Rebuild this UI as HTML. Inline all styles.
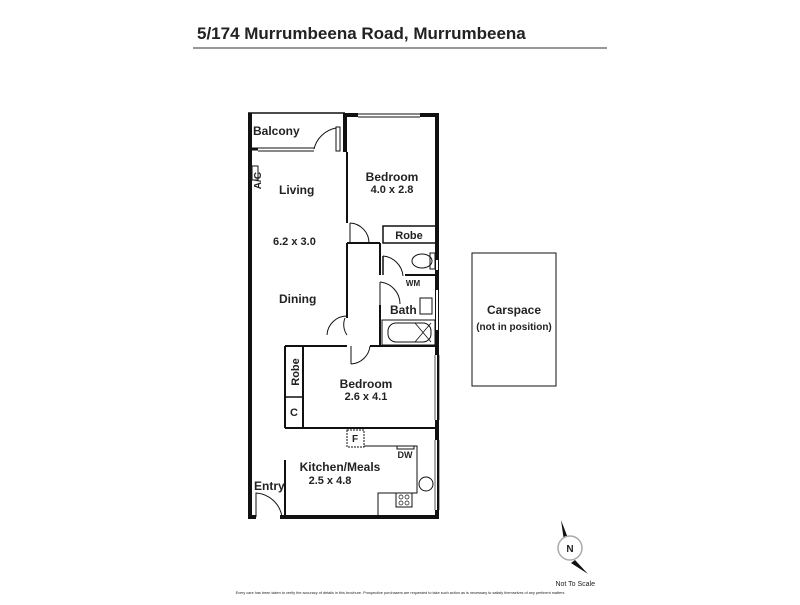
<!DOCTYPE html>
<html><head><meta charset="utf-8"><style>
body{margin:0;background:#fff;width:800px;height:600px;overflow:hidden}
svg text{font-family:"Liberation Sans",sans-serif;font-weight:bold;fill:#222}
</style></head><body>
<svg width="800" height="600" viewBox="0 0 800 600" xmlns="http://www.w3.org/2000/svg">
<text x="197" y="39" font-size="17">5/174 Murrumbeena Road, Murrumbeena</text>
<line x1="193" y1="48" x2="607" y2="48" stroke="#777" stroke-width="1.5"/>
<g stroke="#111" fill="none">
<!-- outer walls -->
<line x1="250" y1="113" x2="250" y2="517" stroke-width="4"/>
<line x1="437" y1="113" x2="437" y2="517" stroke-width="4"/>
<line x1="248" y1="113" x2="345" y2="113" stroke-width="1.5"/>
<line x1="345" y1="115" x2="358" y2="115" stroke-width="4"/>
<line x1="420" y1="115" x2="439" y2="115" stroke-width="4"/>
<line x1="358" y1="114" x2="420" y2="114" stroke-width="1"/>
<line x1="358" y1="117" x2="420" y2="117" stroke-width="1"/>
<line x1="280" y1="517" x2="439" y2="517" stroke-width="4"/>
<line x1="248" y1="517" x2="256" y2="517" stroke-width="4"/>
<!-- balcony -->
<line x1="250" y1="149" x2="258" y2="149" stroke-width="3"/>
<line x1="258" y1="148" x2="314" y2="148" stroke-width="1"/>
<line x1="258" y1="151" x2="314" y2="151" stroke-width="1"/>
<path d="M314 149 A28 28 0 0 1 336 128" stroke-width="1"/>
<rect x="336" y="127" width="4" height="24" stroke-width="1"/>
<line x1="345" y1="113" x2="345" y2="152" stroke-width="4"/>
<!-- central wall -->
<line x1="347" y1="152" x2="347" y2="223" stroke-width="2"/>
<line x1="347" y1="243" x2="347" y2="318" stroke-width="2"/>
<path d="M350 223 A20 20 0 0 1 369 243" stroke-width="1"/>
<line x1="350" y1="223" x2="350" y2="243" stroke-width="1"/>
<path d="M347 335 A18 18 0 0 1 345 318" stroke-width="1"/>
<path d="M327 335 A20 20 0 0 1 347 316" stroke-width="1"/>
<line x1="347" y1="243" x2="380" y2="243" stroke-width="2"/>
<!-- robe -->
<rect x="383" y="226" width="54" height="17" stroke-width="1.5"/>
<!-- toilet -->
<line x1="380" y1="243" x2="380" y2="275" stroke-width="2"/>
<line x1="383" y1="256" x2="383" y2="275" stroke-width="1.5"/>
<path d="M383 256 A22 22 0 0 1 403 276" stroke-width="1"/>
<line x1="405" y1="275" x2="437" y2="275" stroke-width="2"/>
<ellipse cx="422" cy="261" rx="10" ry="7" stroke-width="1"/>
<rect x="430" y="253" width="5" height="16" stroke-width="1"/>
<rect x="420" y="298" width="12" height="16" stroke-width="1"/>
<path d="M380 282 A22 22 0 0 1 400 304" stroke-width="1"/>
<line x1="380" y1="282" x2="380" y2="305" stroke-width="1"/>
<line x1="380" y1="305" x2="380" y2="346" stroke-width="2"/>
<rect x="382" y="320" width="53" height="25" stroke-width="1"/>
<rect x="388" y="323" width="43" height="19" rx="8" stroke-width="1"/>
<line x1="415" y1="323" x2="431" y2="342" stroke-width="0.8"/>
<line x1="431" y1="323" x2="415" y2="342" stroke-width="0.8"/>
<line x1="437" y1="260" x2="437" y2="270" stroke="#fff" stroke-width="2"/>
<!-- bedroom 2 -->
<line x1="285" y1="346" x2="347" y2="346" stroke-width="2"/>
<line x1="370" y1="346" x2="437" y2="346" stroke-width="2"/>
<path d="M351 364 A20 20 0 0 0 370 346" stroke-width="1"/>
<line x1="351" y1="346" x2="351" y2="364" stroke-width="1"/>
<line x1="285" y1="346" x2="285" y2="428" stroke-width="2"/>
<line x1="303" y1="346" x2="303" y2="428" stroke-width="2"/>
<line x1="285" y1="397" x2="303" y2="397" stroke-width="1.5"/>
<line x1="285" y1="428" x2="437" y2="428" stroke-width="2"/>
<!-- kitchen -->
<line x1="285" y1="460" x2="285" y2="517" stroke-width="2"/>
<path d="M256 517 L256 493 A28 28 0 0 1 282 517" stroke-width="1"/>
<rect x="347" y="430" width="17" height="17" stroke-width="1" stroke-dasharray="2 1"/>
<path d="M364 446 L417 446 L417 493 L378 493 L378 515" stroke-width="1"/>
<rect x="397" y="446" width="17" height="3" stroke-width="1"/>
<circle cx="426" cy="484" r="7" stroke-width="1"/>
<rect x="396" y="493" width="16" height="14" stroke-width="1"/>
<circle cx="401" cy="497" r="2" stroke-width="0.7"/><circle cx="407" cy="497" r="2" stroke-width="0.7"/>
<circle cx="401" cy="503" r="2" stroke-width="0.7"/><circle cx="407" cy="503" r="2" stroke-width="0.7"/>
<!-- A/C -->
<rect x="252" y="166" width="6" height="14" stroke-width="1"/>
<!-- right windows -->
<line x1="437" y1="290" x2="437" y2="330" stroke="#fff" stroke-width="2"/>
<line x1="436" y1="355" x2="436" y2="420" stroke="#fff" stroke-width="2"/>
<line x1="435" y1="355" x2="435" y2="420" stroke-width="0.7"/>
<line x1="439" y1="355" x2="439" y2="420" stroke-width="0.7"/>
<line x1="436" y1="440" x2="436" y2="510" stroke="#fff" stroke-width="2"/>
<line x1="435" y1="440" x2="435" y2="510" stroke-width="0.7"/>
<line x1="439" y1="440" x2="439" y2="510" stroke-width="0.7"/>
<!-- carspace -->
<rect x="472" y="253" width="84" height="133" stroke-width="1"/>
</g>
<text x="253" y="135" font-size="12">Balcony</text>
<text x="261" y="172" font-size="10" transform="rotate(-90 261 172)" text-anchor="end">A/C</text>
<text x="279" y="194" font-size="12">Living</text>
<text x="273" y="245" font-size="11">6.2 x 3.0</text>
<text x="279" y="303" font-size="12">Dining</text>
<text x="392" y="181" font-size="12" text-anchor="middle">Bedroom</text>
<text x="392" y="193" font-size="11" text-anchor="middle">4.0 x 2.8</text>
<text x="409" y="239" font-size="11" text-anchor="middle">Robe</text>
<text x="413" y="286" font-size="8" text-anchor="middle">WM</text>
<text x="390" y="314" font-size="12">Bath</text>
<text x="299" y="372" font-size="11" transform="rotate(-90 299 372)" text-anchor="middle">Robe</text>
<text x="294" y="416" font-size="11" text-anchor="middle">C</text>
<text x="366" y="388" font-size="12" text-anchor="middle">Bedroom</text>
<text x="366" y="400" font-size="11" text-anchor="middle">2.6 x 4.1</text>
<text x="355" y="442" font-size="10" text-anchor="middle">F</text>
<text x="405" y="458" font-size="9" text-anchor="middle">DW</text>
<text x="340" y="471" font-size="12" text-anchor="middle">Kitchen/Meals</text>
<text x="330" y="484" font-size="11" text-anchor="middle">2.5 x 4.8</text>
<text x="254" y="490" font-size="12">Entry</text>
<text x="514" y="314" font-size="12" text-anchor="middle">Carspace</text>
<text x="514" y="330" font-size="10" text-anchor="middle">(not in position)</text>
<g>
<polygon points="561,520 571,546 565,548" fill="#111"/>
<polygon points="575,560 588,574 571,563" fill="#111"/>
<circle cx="570" cy="548" r="12" fill="#fff" stroke="#aaa" stroke-width="1.5"/>
<text x="570" y="552" font-size="10" text-anchor="middle">N</text>
</g>
<text x="595" y="586" font-size="7" text-anchor="end" style="font-weight:normal">Not To Scale</text>
<text x="400" y="594" font-size="3.8" text-anchor="middle" style="font-weight:normal">Every care has been taken to verify the accuracy of details in this brochure. Prospective purchasers are requested to take such action as is necessary to satisfy themselves of any pertinent matters</text>
</svg>
</body></html>
